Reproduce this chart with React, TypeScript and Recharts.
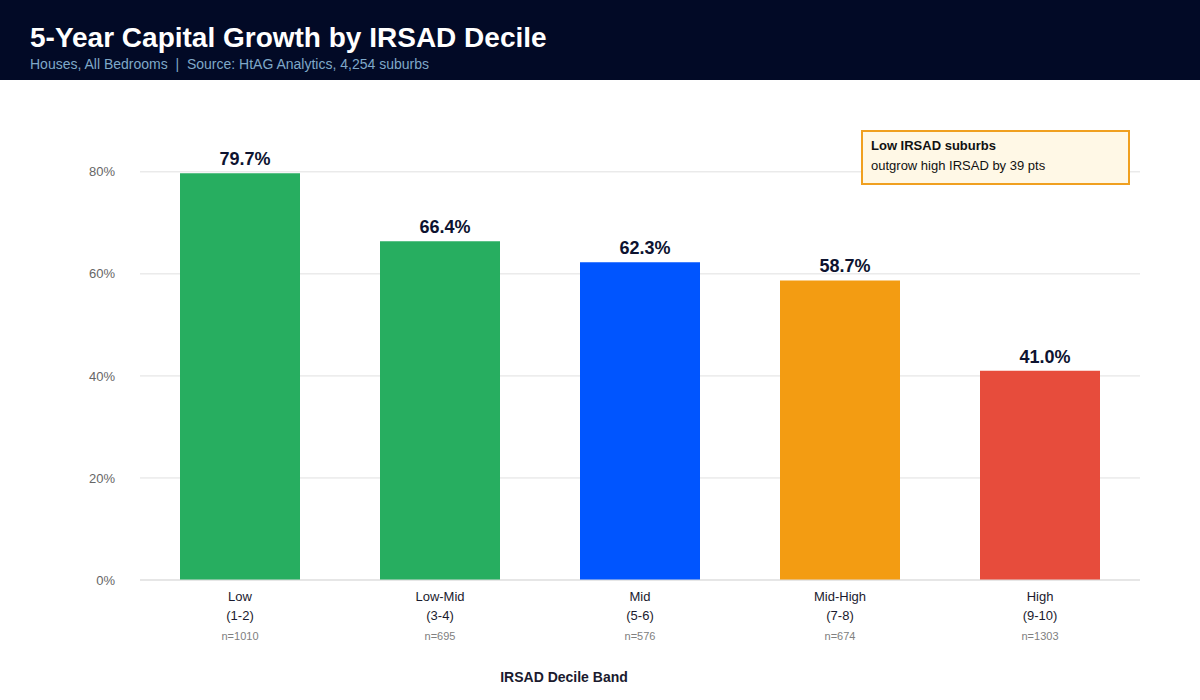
import { BarChart, Bar, XAxis, YAxis, CartesianGrid, Cell, LabelList } from "recharts";

const bands = ["Low", "Low-Mid", "Mid", "Mid-High", "High"];
const deciles = ["(1-2)", "(3-4)", "(5-6)", "(7-8)", "(9-10)"];
const counts = [1010, 695, 576, 674, 1303];
const growth = [79.7, 66.4, 62.3, 58.7, 41.0];
const colors = ["#27ae60", "#27ae60", "#0055ff", "#f39c12", "#e74c3c"];
const yTicks = [0, 20, 40, 60, 80];

const data = bands.map((band, i) => ({
  band,
  decile: deciles[i],
  n: counts[i],
  value: growth[i],
}));

const FONT = "'Liberation Sans', Arial, Helvetica, sans-serif";

const BandTick = (props: any) => {
  const { x, y, payload } = props;
  const row = data[payload.index] ?? data.find((d) => d.band === payload.value);
  return (
    <g transform={`translate(${x},${y})`}>
      <text x={0} y={19} textAnchor="middle" fill="#1a1a2e" fontSize={13} fontFamily={FONT}>
        {payload.value}
      </text>
      <text x={0} y={38} textAnchor="middle" fill="#1a1a2e" fontSize={13} fontFamily={FONT}>
        {row?.decile}
      </text>
      <text x={0} y={58} textAnchor="middle" fill="#808080" fontSize={11} fontFamily={FONT}>
        n={row?.n}
      </text>
    </g>
  );
};

export default function App() {
  return (
    <div
      style={{
        position: "absolute",
        top: 0,
        left: 0,
        width: 1200,
        height: 700,
        background: "#fff",
        fontFamily: FONT,
        overflow: "hidden",
      }}
    >
      <div style={{ height: 80, background: "#020a26", position: "relative" }}>
        <div
          style={{
            position: "absolute",
            left: 30,
            top: 21,
            color: "#fff",
            fontSize: 28,
            fontWeight: 700,
            lineHeight: "34px",
          }}
        >
          5-Year Capital Growth by IRSAD Decile
        </div>
        <div
          style={{
            position: "absolute",
            left: 30,
            top: 56,
            color: "#7fa8c8",
            fontSize: 14,
            lineHeight: "16px",
            whiteSpace: "pre",
          }}
        >
          {"Houses, All Bedrooms  |  Source: HtAG Analytics, 4,254 suburbs"}
        </div>
      </div>

      <BarChart
        width={1200}
        height={620}
        data={data}
        margin={{ top: 51, right: 60, left: 0, bottom: 0 }}
        barCategoryGap="20%"
      >
        <CartesianGrid vertical={false} stroke="#e0e0e0" syncWithTicks />
        <XAxis
          dataKey="band"
          height={120}
          stroke="#dddddd"
          tickLine={false}
          tickSize={0}
          tick={<BandTick />}
          interval={0}
        />
        <YAxis
          width={140}
          domain={[0, 88]}
          ticks={yTicks}
          axisLine={false}
          tickLine={false}
          tickSize={0}
          tickMargin={25}
          tickFormatter={(v: number) => `${v}%`}
          tick={{ fill: "#666", fontSize: 13, fontFamily: FONT }}
        />
        <Bar dataKey="value" isAnimationActive={false}>
          {data.map((d, i) => (
            <Cell key={d.band} fill={colors[i]} />
          ))}
          <LabelList
            dataKey="value"
            position="top"
            offset={8}
            dx={5}
            formatter={(v: any) => `${Number(v).toFixed(1)}%`}
            style={{ fill: "#0d1330", fontSize: 18, fontWeight: 700, fontFamily: FONT }}
          />
        </Bar>
      </BarChart>

      <div
        style={{
          position: "absolute",
          left: 861,
          top: 130,
          width: 265,
          height: 51,
          border: "2px solid #f0a020",
          background: "#fff8e6",
          boxSizing: "content-box",
        }}
      >
        <div style={{ position: "absolute", left: 8, top: 6, fontSize: 13, fontWeight: 700, color: "#111" }}>
          Low IRSAD suburbs
        </div>
        <div style={{ position: "absolute", left: 8, top: 26, fontSize: 13, color: "#111" }}>
          outgrow high IRSAD by 39 pts
        </div>
      </div>

      <div
        style={{
          position: "absolute",
          left: 364,
          width: 400,
          top: 669,
          textAlign: "center",
          fontSize: 14,
          fontWeight: 700,
          color: "#1a1a2e",
        }}
      >
        IRSAD Decile Band
      </div>
    </div>
  );
}
